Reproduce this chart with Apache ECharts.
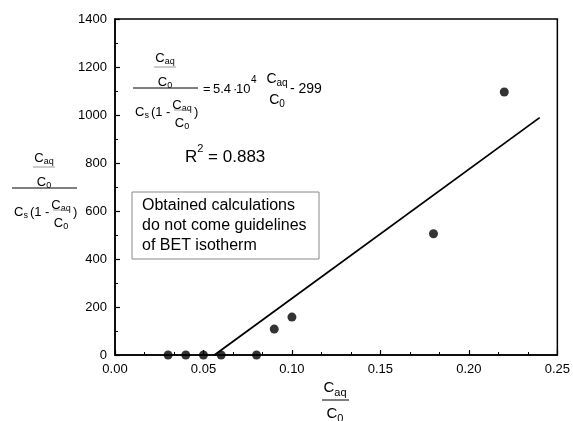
<!DOCTYPE html>
<html>
<head>
<meta charset="utf-8">
<script src="https://cdn.jsdelivr.net/npm/echarts@6/dist/echarts.min.js"></script>
<style>html,body{margin:0;padding:0;background:#fff}#c{width:573px;height:421px}</style>
</head>
<body>
<div id="c"></div>
<script>
// Data
const pointX = [0.03, 0.04, 0.05, 0.06, 0.08, 0.09, 0.10, 0.18, 0.22];
const pointY = [0, 0, 0, 0, 0, 108, 158, 505, 1096];
const fitX = [0.0562, 0.24];
const fitY = [0, 989];
const boxLines = ['Obtained calculations', 'do not come guidelines', 'of BET isotherm'];

const FONT = 'Liberation Sans, Arial, sans-serif';
const cvs = document.createElement('canvas').getContext('2d');
function tw(t, size) { cvs.font = size + 'px ' + FONT; return cvs.measureText(t).width; }

const G = [];
function txt(x, y, t, size, align, color) {
  G.push({type: 'text', x: x, y: y, z: 100, style: {text: t, fill: color || '#000', font: size + 'px ' + FONT, align: align || 'left', verticalAlign: 'middle'}});
}
function line(x1, y1, x2, y2, color, w) {
  G.push({type: 'line', z: 100, shape: {x1: x1, y1: y1, x2: x2, y2: y2}, style: {stroke: color || '#000', lineWidth: w || 1}});
}
function csub(cx, cy, main, sub, size, align) {
  const ss = Math.round(size * 0.72);
  const w1 = tw(main, size), w2 = tw(sub, ss);
  let lx = cx - (w1 + w2) / 2;
  if (align === 'left') lx = cx;
  txt(lx, cy, main, size, 'left');
  txt(lx + w1, cy + size * 0.3, sub, ss, 'left');
  return lx + w1 + w2;
}
function ratio(cx, yTop, yBar, yBot, size, barHalf, barColor) {
  csub(cx, yTop, 'C', 'aq', size);
  if (barHalf) line(cx - barHalf, yBar, cx + barHalf, yBar, barColor || '#999', 1);
  csub(cx, yBot, 'C', '0', size);
}
function bigFrac(ox, oy) {
  ratio(ox + 32, oy - 30, oy - 21, oy - 6, 13, 11, '#999');
  line(ox, oy, ox + 65, oy, '#000', 1);
  const e = csub(ox + 2, oy + 24, 'C', 's', 13, 'left');
  txt(e + 2, oy + 24, '(1 -', 13, 'left');
  ratio(ox + 49, oy + 17, oy + 22, oy + 35, 13, 8, '#999');
  txt(ox + 61, oy + 24, ')', 13, 'left');
}

// main formula
bigFrac(133, 88);
txt(203, 89, '=', 13, 'left');
txt(213, 89, '5.4', 13, 'left');
txt(233, 89, '·', 13, 'left');
txt(236, 89, '10', 13, 'left');
txt(251, 80, '4', 10, 'left');
csub(277, 79, 'C', 'aq', 14);
csub(277, 100, 'C', '0', 14);
txt(290, 89, '- 299', 14, 'left');
// R^2
txt(185, 157, 'R', 17, 'left');
txt(185 + tw('R', 17), 149, '2', 11, 'left');
txt(185 + tw('R', 17) + tw('2', 11), 157, ' = 0.883', 17, 'left');

// y-axis label
bigFrac(12, 188);

// x-axis label
csub(335, 388, 'C', 'aq', 15);
line(322, 400, 349, 400, '#000', 1);
csub(335, 414, 'C', '0', 15);

// text box
G.push({type: 'rect', z: 90, shape: {x: 132, y: 192, width: 187, height: 67}, style: {fill: '#fff', stroke: '#888', lineWidth: 1}});
boxLines.forEach((t, i) => txt(142, 206 + i * 20, t, 16, 'left'));

const chart = echarts.init(document.getElementById('c'), null, {renderer: 'canvas'});
chart.setOption({
  backgroundColor: '#fff',
  animation: false,
  grid: {left: 115, right: 14, top: 19, bottom: 66, show: true, borderColor: '#000', borderWidth: 1.5, backgroundColor: 'transparent'},
  xAxis: {
    type: 'value', min: 0, max: 0.25, interval: 0.05,
    axisLine: {lineStyle: {color: '#000', width: 1.5}},
    axisTick: {inside: true, length: 5, lineStyle: {color: '#000', width: 1.2}},
    minorTick: {show: true, splitNumber: 3, length: 3, lineStyle: {color: '#000', width: 1}},
    splitLine: {show: false},
    axisLabel: {color: '#000', fontSize: 13, fontFamily: FONT, margin: 8, formatter: v => v.toFixed(2)}
  },
  yAxis: {
    type: 'value', min: 0, max: 1400, interval: 200,
    axisLine: {show: true, lineStyle: {color: '#000', width: 1.5}},
    axisTick: {show: true, inside: true, length: 5, lineStyle: {color: '#000', width: 1.2}},
    minorTick: {show: true, splitNumber: 2, length: 3, lineStyle: {color: '#000', width: 1}},
    splitLine: {show: false},
    axisLabel: {color: '#000', fontSize: 13, fontFamily: FONT, margin: 8, formatter: v => String(v)}
  },
  series: [
    {type: 'line', data: fitX.map((x, i) => [x, fitY[i]]), showSymbol: false, symbol: 'none', lineStyle: {color: '#000', width: 1.8}, z: 3},
    {type: 'scatter', data: pointX.map((x, i) => [x, pointY[i]]), symbol: 'circle', symbolSize: 9, itemStyle: {color: '#000'}, z: 4, clip: false}
  ],
  graphic: G
});
</script>
</body>
</html>
